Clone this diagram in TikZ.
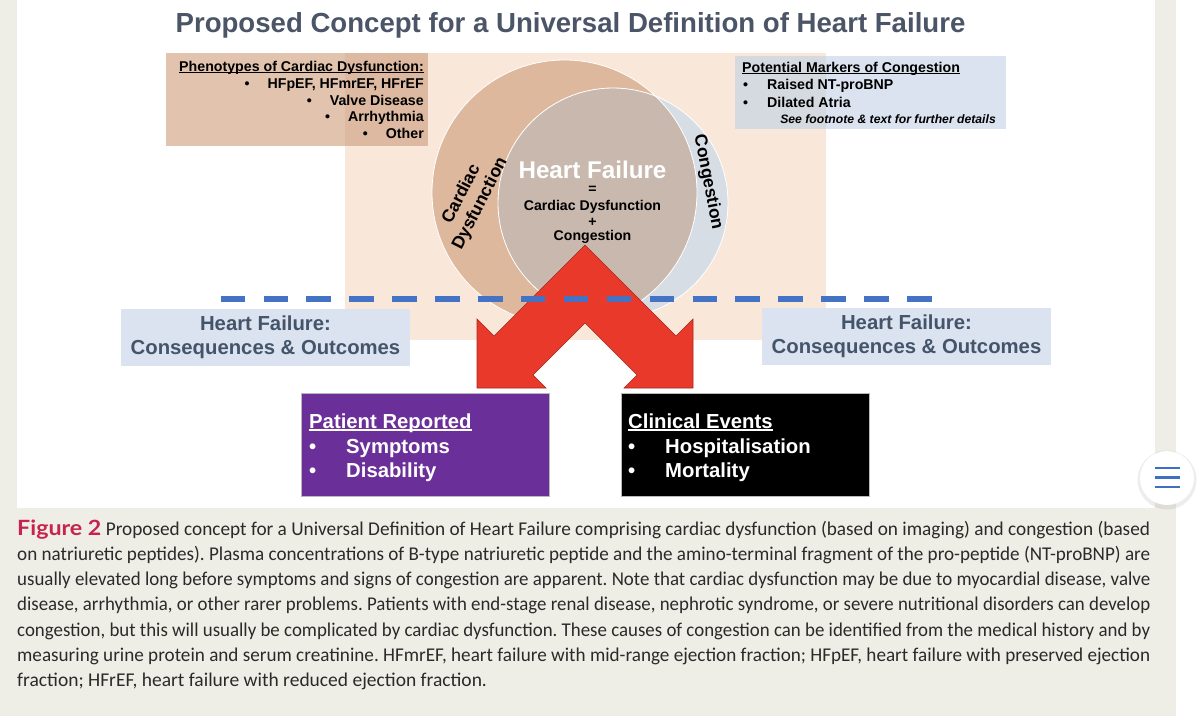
\documentclass[tikz,border=0pt]{standalone}
\usepackage{fontspec}
\usepackage{graphicx}
\setmainfont{Liberation Sans}
\newfontfamily\capfont{Carlito}
\newfontfamily\figfont{Lato}
\definecolor{pagegray}{HTML}{EFEEE6}
\definecolor{peach}{HTML}{F9E7DA}
\definecolor{tanbox}{HTML}{E2C4AE}
\definecolor{tanover}{HTML}{DCB9A0}
\definecolor{bluebox}{HTML}{DAE3EF}
\definecolor{blueover}{HTML}{D5DAE0}
\definecolor{tanc}{HTML}{DDB89D}
\definecolor{bluec}{HTML}{D7DDE5}
\definecolor{interc}{HTML}{C9B8AD}
\definecolor{arrred}{HTML}{E8392B}
\definecolor{arrdark}{HTML}{A8281E}
\definecolor{dashc}{HTML}{4472C4}
\definecolor{purp}{HTML}{6B2F99}
\definecolor{slate}{HTML}{44546A}
\definecolor{titlec}{HTML}{4B5567}
\definecolor{figred}{HTML}{C6244E}
\definecolor{captxt}{HTML}{2A2A2A}
\definecolor{menublue}{HTML}{3E6FC2}
\newcommand{\myul}[1]{\setbox0=\hbox{#1}\rlap{\rule[-0.15em]{\wd0}{0.08em}}\box0}
\newsavebox\capbox
\newcommand{\capln}[1]{\sbox\capbox{#1}\ifdim\wd\capbox>1133pt \resizebox{1133pt}{\height}{\usebox\capbox}\else\makebox[1133pt][s]{#1}\fi}
\newcommand{\figlabel}{\textcolor{figred}{\scalebox{1.12}[1]{\figfont\bfseries\fontsize{21pt}{23pt}\selectfont Figure 2}}}
\tikzset{
  smallbold/.style={font=\bfseries\fontsize{14.2pt}{16pt}\selectfont, inner sep=0pt},
  circtxt/.style={font=\bfseries\fontsize{14.1pt}{16pt}\selectfont, inner sep=0pt},
  arctxt/.style={font=\bfseries\fontsize{17.5pt}{21pt}\selectfont, inner sep=0pt, align=center},
  outbox/.style={fill=bluebox, minimum width=289pt, minimum height=57pt, inner sep=0pt,
    text=slate, align=center, font=\bfseries\fontsize{20.3pt}{24pt}\selectfont},
  resbox/.style={minimum width=248pt, minimum height=103pt, inner sep=0pt, draw=gray!55, line width=0.8pt},
  restxt/.style={text=white, font=\bfseries\fontsize{20.3pt}{24pt}\selectfont, inner sep=0pt, anchor=base west},
  capline/.style={text=captxt, font=\capfont\frenchspacing\fontsize{19.5pt}{23pt}\selectfont, inner sep=0pt, anchor=base west},
}
\begin{document}
\begin{tikzpicture}[x=1pt,y=-1pt]
\useasboundingbox (0,0) rectangle (1200,723);
\fill[white] (0,0) rectangle (1200,723);
\fill[pagegray] (0,0) rectangle (1176,716);
\fill[white] (17,0) rectangle (1155,508);

% background panels
\fill[peach] (345,53) rectangle (826,340);
\fill[tanbox] (166,53) rectangle (428,146);
\fill[tanover] (345,53) rectangle (428,146);
\fill[bluebox] (735,56) rectangle (1006,129);
\fill[blueover] (735,56) rectangle (826,129);

% circles
\fill[tanc] (564.5,192.5) circle[radius=132.5pt];
\fill[bluec] (613,203) circle[radius=115pt];
\begin{scope}
  \clip (564.5,192.5) circle[radius=132.5pt];
  \fill[interc] (613,203) circle[radius=115pt];
\end{scope}
\draw[white, line width=0.8pt] (564.5,192.5) circle[radius=132.5pt];
\draw[white, line width=0.8pt] (613,203) circle[radius=115pt];

% title
\node[text=titlec, font=\bfseries\fontsize{27.6pt}{32pt}\selectfont, inner sep=0pt] (title) at (570.5,25)
  {Proposed Concept for a Universal Definition of Heart Failure};

% phenotypes box text
\node[smallbold, anchor=base east] (ph0) at (424,71) {\myul{Phenotypes of Cardiac Dysfunction:}};
\node[smallbold, anchor=base east] (ph1) at (424,88) {\textbullet\hspace{18pt}HFpEF, HFmrEF, HFrEF};
\node[smallbold, anchor=base east] (ph2) at (424,105) {\textbullet\hspace{18pt}Valve Disease};
\node[smallbold, anchor=base east] (ph3) at (424,121.8) {\textbullet\hspace{18pt}Arrhythmia};
\node[smallbold, anchor=base east] (ph4) at (424,138.3) {\textbullet\hspace{18pt}Other};

% markers box text
\node[smallbold, anchor=base west] (mk0) at (742,72) {\myul{Potential Markers of Congestion}};
\node[smallbold, anchor=base west] (mk1) at (743,89.5) {\textbullet\hspace{19pt}Raised NT-proBNP};
\node[smallbold, anchor=base west] (mk2) at (743,107) {\textbullet\hspace{19pt}Dilated Atria};
\node[inner sep=0pt, anchor=base east, font=\bfseries\itshape\fontsize{12.2pt}{14pt}\selectfont] (mk3) at (996,123.3)
  {See footnote \& text for further details};

% circle labels
\node[arctxt, rotate=63] (cdlab) at (471,199) {Cardiac\\Dysfunction};
\node[arctxt, rotate=-79] (cglab) at (708,182) {Congestion};
\node[text=white, font=\bfseries\fontsize{24.2pt}{28pt}\selectfont, inner sep=0pt] (hf) at (592.5,170) {Heart Failure};
\node[circtxt] (eq) at (592.5,190) {=};
\node[circtxt] (cd) at (592.5,207) {Cardiac Dysfunction};
\node[circtxt] (pl) at (592.5,222) {+};
\node[circtxt] (cg) at (592.5,237) {Congestion};

% red double arrow
\filldraw[fill=arrred, draw=arrdark, line width=0.6pt, line join=miter]
  (585,245) -- (676,336) -- (693,319) -- (693,388) -- (624,388) -- (637,375) -- (585,323)
  -- (533,375) -- (546,388) -- (477,388) -- (477,319) -- (494,336) -- cycle;

% dashed divider
\draw[dashc, line width=6pt, dash pattern=on 24.5pt off 18.4pt] (220.6,299) -- (932,299);

% outcome label boxes
\node[outbox] (outL) at (265.5,337) {Heart Failure:\\Consequences \& Outcomes};
\node[outbox] (outR) at (906.5,336.5) {Heart Failure:\\Consequences \& Outcomes};

% result boxes
\node[resbox, fill=purp] (prbox) at (425,444.5) {};
\node[resbox, fill=black] (cebox) at (745,444.5) {};
\node[restxt] (pr0) at (309,428) {\myul{Patient Reported}};
\node[restxt] (pr1) at (309,453) {\textbullet};
\node[restxt] (pr1t) at (346,453) {Symptoms};
\node[restxt] (pr2) at (309,477) {\textbullet};
\node[restxt] (pr2t) at (346,477) {Disability};
\node[restxt] (ce0) at (628,428) {\myul{Clinical Events}};
\node[restxt] (ce1) at (628,453) {\textbullet};
\node[restxt] (ce1t) at (665,453) {Hospitalisation};
\node[restxt] (ce2) at (628,477) {\textbullet};
\node[restxt] (ce2t) at (665,477) {Mortality};

% menu button
\fill[black, opacity=0.07] (1167,480) circle[radius=29.5pt];
\fill[white] (1167,478) circle[radius=27pt];
\draw[menublue, line width=2.6pt] (1155,468) -- (1180,468);
\draw[menublue, line width=2.6pt] (1155,477.5) -- (1180,477.5);
\draw[menublue, line width=2.6pt] (1155,487) -- (1180,487);

% caption
\node[capline] (c1) at (17,535) {\capln{\figlabel\ Proposed concept for a Universal Definition of Heart Failure comprising cardiac dysfunction (based on imaging) and congestion (based}};
\node[capline] (c2) at (17,560.3) {\capln{on natriuretic peptides). Plasma concentrations of B-type natriuretic peptide and the amino-terminal fragment of the pro-peptide (NT-proBNP) are}};
\node[capline] (c3) at (17,585.6) {\capln{usually elevated long before symptoms and signs of congestion are apparent. Note that cardiac dysfunction may be due to myocardial disease, valve}};
\node[capline] (c4) at (17,610.9) {\capln{disease, arrhythmia, or other rarer problems. Patients with end-stage renal disease, nephrotic syndrome, or severe nutritional disorders can develop}};
\node[capline] (c5) at (17,636.2) {\capln{congestion, but this will usually be complicated by cardiac dysfunction. These causes of congestion can be identified from the medical history and by}};
\node[capline] (c6) at (17,661.5) {\capln{measuring urine protein and serum creatinine. HFmrEF, heart failure with mid-range ejection fraction; HFpEF, heart failure with preserved ejection}};
\node[capline] (c7) at (17,686.8) {fraction; HFrEF, heart failure with reduced ejection fraction.};
\end{tikzpicture}
\end{document}
